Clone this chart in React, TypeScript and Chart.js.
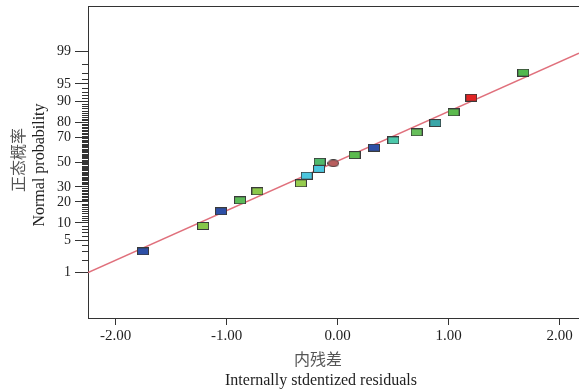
import React, { useEffect, useRef } from "react";
import { Chart, registerables } from "chart.js";
Chart.register(...registerables);

// Internally studentized residuals (x) and their normal probability in % (y)
const RESID_X = [-1.754, -1.213, -1.051, -0.88, -0.723, -0.331, -0.279, -0.168, -0.162, -0.039, 0.153, 0.327, 0.502, 0.712, 0.88, 1.045, 1.204, 1.673];
const RESID_P = [3.0, 8.9, 15.0, 21.0, 26.9, 32.7, 38.7, 44.2, 50.2, 48.9, 55.8, 61.8, 67.6, 73.4, 79.4, 85.2, 91.2, 97.0];
const POINT_COLORS = ["#2d4fa6", "#86c64a", "#2d4fa6", "#5cba58", "#8cc84a", "#96cc4e", "#4cc6de", "#4cc6de", "#4fb86a", "#b85e5e", "#5cba4e", "#2d4fa6", "#4cc8aa", "#66be5a", "#3aa6a8", "#5cba4e", "#e22424", "#52b84e"];
const POINT_SHAPES = ["rect", "rect", "rect", "rect", "rect", "rect", "rect", "rect", "rect", "ellipse", "rect", "rect", "rect", "rect", "rect", "rect", "rect", "rect"];

// Fitted normal line (endpoints, x and probability %)
const FIT_X = [-2.25, 2.175];
const FIT_P = [1.0, 98.9];

const X_TICKS = [-2, -1, 0, 1, 2];
const Y_MAJOR_P = [1, 5, 10, 20, 30, 50, 70, 80, 90, 95, 99];

const X_MIN = -2.25;
const X_MAX = 2.175;
const Z_LIM = 3.284;

// inverse standard normal CDF (Acklam)
function probit(p: number): number {
  const a = [-3.969683028665376e1, 2.209460984245205e2, -2.759285104469687e2, 1.38357751867269e2, -3.066479806614716e1, 2.506628277459239];
  const b = [-5.447609879822406e1, 1.615858368580409e2, -1.556989798598866e2, 6.680131188771972e1, -1.328068155288572e1];
  const c = [-7.784894002430293e-3, -3.223964580411365e-1, -2.400758277161838, -2.549732539343734, 4.374664141464968, 2.938163982698783];
  const d = [7.784695709041462e-3, 3.224671290700398e-1, 2.445134137142996, 3.754408661907416];
  const pl = 0.02425;
  let q: number, r: number;
  if (p < pl) {
    q = Math.sqrt(-2 * Math.log(p));
    return (((((c[0] * q + c[1]) * q + c[2]) * q + c[3]) * q + c[4]) * q + c[5]) / ((((d[0] * q + d[1]) * q + d[2]) * q + d[3]) * q + 1);
  } else if (p <= 1 - pl) {
    q = p - 0.5;
    r = q * q;
    return ((((((a[0] * r + a[1]) * r + a[2]) * r + a[3]) * r + a[4]) * r + a[5]) * q) / (((((b[0] * r + b[1]) * r + b[2]) * r + b[3]) * r + b[4]) * r + 1);
  } else {
    q = Math.sqrt(-2 * Math.log(1 - p));
    return -(((((c[0] * q + c[1]) * q + c[2]) * q + c[3]) * q + c[4]) * q + c[5]) / ((((d[0] * q + d[1]) * q + d[2]) * q + d[3]) * q + 1);
  }
}

function makeMarker(color: string, shape: string): HTMLCanvasElement {
  const c = document.createElement("canvas");
  c.width = 12;
  c.height = 8;
  const ctx = c.getContext("2d")!;
  ctx.fillStyle = color;
  ctx.strokeStyle = "#3a3a3a";
  ctx.lineWidth = 1;
  if (shape === "ellipse") {
    ctx.beginPath();
    ctx.ellipse(6, 4, 5.5, 3.5, 0, 0, Math.PI * 2);
    ctx.fill();
    ctx.stroke();
  } else {
    ctx.fillRect(0.5, 0.5, 11, 7);
    ctx.strokeRect(0.5, 0.5, 11, 7);
  }
  return c;
}

const minorTicks: number[] = [];
for (let p = 2; p <= 98; p++) if (!Y_MAJOR_P.includes(p)) minorTicks.push(p);

const framePlugin = {
  id: "frameAndTitles",
  afterDraw(chart: any) {
    const { ctx, chartArea } = chart;
    const ys = chart.scales.y;
    ctx.save();
    ctx.strokeStyle = "#333";
    ctx.lineWidth = 1;
    // top frame
    ctx.beginPath();
    ctx.moveTo(chartArea.left, chartArea.top + 0.5);
    ctx.lineTo(chartArea.right, chartArea.top + 0.5);
    ctx.stroke();
    // minor ticks on probability axis
    ctx.beginPath();
    for (const p of minorTicks) {
      const y = Math.round(ys.getPixelForValue(probit(p / 100))) + 0.5;
      ctx.moveTo(chartArea.left - 6, y);
      ctx.lineTo(chartArea.left, y);
    }
    ctx.stroke();
    // x titles
    ctx.textAlign = "center";
    ctx.textBaseline = "middle";
    ctx.fillStyle = "#555";
    ctx.font = '16px "Noto Sans CJK SC"';
    ctx.fillText("内残差", 318, 359);
    ctx.fillStyle = "#1e1e1e";
    ctx.font = '16px "Liberation Serif"';
    ctx.fillText("Internally stdentized residuals", 321, 381);
    // y titles
    ctx.save();
    ctx.translate(18, 160);
    ctx.rotate(-Math.PI / 2);
    ctx.fillStyle = "#555";
    ctx.font = '16px "Noto Sans CJK SC"';
    ctx.fillText("正态概率", 0, 0);
    ctx.restore();
    ctx.save();
    ctx.translate(40, 165);
    ctx.rotate(-Math.PI / 2);
    ctx.fillStyle = "#1e1e1e";
    ctx.font = '16px "Liberation Serif"';
    ctx.fillText("Normal probability", 0, 0);
    ctx.restore();
    ctx.restore();
  },
};

export default function App() {
  const ref = useRef<HTMLCanvasElement | null>(null);
  useEffect(() => {
    if (!ref.current) return;
    const markers = RESID_X.map((_, i) => makeMarker(POINT_COLORS[i], POINT_SHAPES[i]));
    const chart = new Chart(ref.current, {
      type: "scatter",
      data: {
        datasets: [
          {
            type: "scatter",
            data: RESID_X.map((x, i) => ({ x, y: probit(RESID_P[i] / 100) })),
            pointStyle: markers as any,
            pointRadius: 6,
            order: 0,
          },
          {
            type: "line",
            data: FIT_X.map((x, i) => ({ x, y: probit(FIT_P[i] / 100) })),
            borderColor: "#e0707c",
            borderWidth: 1.5,
            pointRadius: 0,
            fill: false,
            order: 1,
          } as any,
        ],
      },
      plugins: [framePlugin],
      options: {
        animation: false,
        responsive: false,
        maintainAspectRatio: false,
        layout: { autoPadding: false, padding: { top: 6, right: 0, left: 0, bottom: 0 } },
        plugins: { legend: { display: false }, tooltip: { enabled: false } },
        scales: {
          x: {
            type: "linear",
            min: X_MIN,
            max: X_MAX,
            afterBuildTicks: (s: any) => {
              s.ticks = X_TICKS.map((v) => ({ value: v }));
            },
            afterFit: (s: any) => {
              s.height = 74;
              s.paddingLeft = 0;
              s.paddingRight = 0;
              s.paddingTop = 0;
              s.paddingBottom = 0;
            },
            ticks: {
              callback: (v: any) => Number(v).toFixed(2),
              color: "#1e1e1e",
              font: { family: "Liberation Serif", size: 15 },
              padding: 2,
              maxRotation: 0,
            },
            grid: { drawOnChartArea: false, drawTicks: true, tickLength: 7, tickColor: "#333" },
            border: { display: true, color: "#333", width: 1 },
          },
          y: {
            type: "linear",
            min: -Z_LIM,
            max: Z_LIM,
            afterBuildTicks: (s: any) => {
              s.ticks = Y_MAJOR_P.map((p) => ({ value: probit(p / 100) }));
            },
            afterFit: (s: any) => {
              s.width = 88;
              s.paddingLeft = 0;
              s.paddingRight = 0;
              s.paddingTop = 0;
              s.paddingBottom = 0;
            },
            ticks: {
              callback: (_v: any, i: number) => String(Y_MAJOR_P[i]),
              color: "#1e1e1e",
              font: { family: "Liberation Serif", size: 14 },
              padding: 4,
            },
            grid: { drawOnChartArea: false, drawTicks: true, tickLength: 13, tickColor: "#333" },
            border: { display: true, color: "#333", width: 1 },
          },
        },
      },
    });
    return () => chart.destroy();
  }, []);
  return (
    <div style={{ position: "fixed", left: 0, top: 0, width: 579, height: 392, background: "#fff" }}>
      <canvas ref={ref} width={579} height={392} style={{ width: 579, height: 392, display: "block" }} />
    </div>
  );
}
